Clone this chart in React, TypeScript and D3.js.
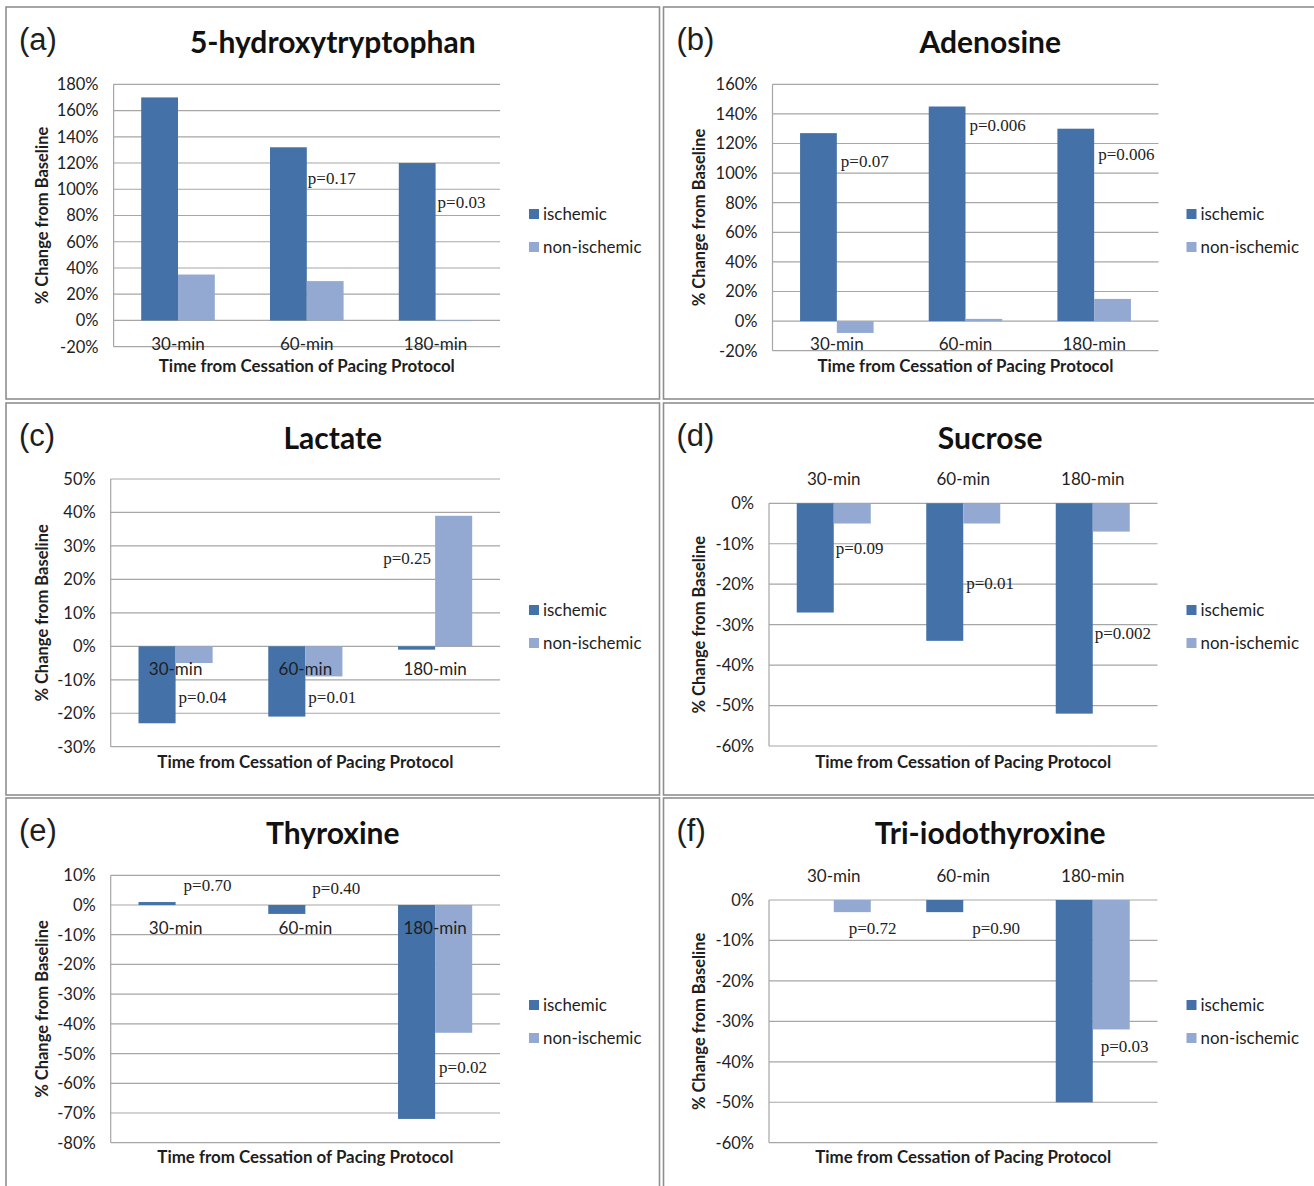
import React from 'react';
import * as d3 from 'd3';

// ---------- DATA ----------
const categories = ['30-min', '60-min', '180-min'];
const seriesNames = ['ischemic', 'non-ischemic'];
const panelLetters = ['(a)', '(b)', '(c)', '(d)', '(e)', '(f)'];
const panelTitles = ['5-hydroxytryptophan', 'Adenosine', 'Lactate', 'Sucrose', 'Thyroxine', 'Tri-iodothyroxine'];

// % change from baseline
const ischemicA = [170, 132, 120];
const nonIschemicA = [35, 30, -0.5];
const ischemicB = [127, 145, 130];
const nonIschemicB = [-8, 1.5, 15];
const ischemicC = [-23, -21, -1];
const nonIschemicC = [-5, -9, 39];
const ischemicD = [-27, -34, -52];
const nonIschemicD = [-5, -5, -7];
const ischemicE = [1, -3, -72];
const nonIschemicE = [0, 0, -43];
const ischemicF = [0, -3, -50];
const nonIschemicF = [-3, 0, -32];

// y-axis domains and tick steps
const yDomains: [number, number][] = [[-20, 180], [-20, 160], [-30, 50], [-60, 0], [-80, 10], [-60, 0]];
const yTickSteps = [20, 20, 10, 10, 10, 10];

// p-value annotations per category and their vertical anchor (in % units)
const pLabelsA = ['', 'p=0.17', 'p=0.03'];
const pValueYA = [0, 108.8, 90];
const pLabelsB = ['p=0.07', 'p=0.006', 'p=0.006'];
const pValueYB = [108.4, 132.5, 112.9];
const pLabelsC = ['p=0.04', 'p=0.01', 'p=0.25'];
const pValueYC = [-15.1, -15.1, 26.3];
const pLabelsD = ['p=0.09', 'p=0.01', 'p=0.002'];
const pValueYD = [-11, -19.7, -32.1];
const pLabelsE = ['p=0.70', 'p=0.40', 'p=0.02'];
const pValueYE = [6.6, 5.8, -54.4];
const pLabelsF = ['p=0.72', 'p=0.90', 'p=0.03'];
const pValueYF = [-7, -7, -36];

const ischemicAll = [ischemicA, ischemicB, ischemicC, ischemicD, ischemicE, ischemicF];
const nonIschemicAll = [nonIschemicA, nonIschemicB, nonIschemicC, nonIschemicD, nonIschemicE, nonIschemicF];
const pLabelsAll = [pLabelsA, pLabelsB, pLabelsC, pLabelsD, pLabelsE, pLabelsF];
const pValueYAll = [pValueYA, pValueYB, pValueYC, pValueYD, pValueYE, pValueYF];

// ---------- LAYOUT ----------
const W = 1314;
const H = 1186;
const colX = [6, 663.5];
const rowY = [7, 403, 798];
const PW = 653.5;
const PH = 392;
const plotRects = [
  { l: 107.6, r: 494, t: 77.3, b: 339.7 },
  { l: 109, r: 495, t: 77.3, b: 343.7 },
  { l: 104.7, r: 494, t: 76, b: 343.7 },
  { l: 105.5, r: 494, t: 100.3, b: 343 },
  { l: 104.7, r: 494, t: 77.3, b: 344.7 },
  { l: 105.5, r: 494, t: 102, b: 344.7 },
];
// horizontal offset of p labels from the category centre (px), anchor
const pLabelDx = [
  [2, 1, 2],
  [4, 4, 4],
  [3, 3, -4],
  [2, 3, 2],
  [8, 7, 4],
  [15, 9, 8],
];
const pLabelAnchor = [
  ['start', 'start', 'start'],
  ['start', 'start', 'start'],
  ['start', 'start', 'end'],
  ['start', 'start', 'start'],
  ['start', 'start', 'start'],
  ['start', 'start', 'start'],
];

const colors = ['#4471a7', '#93a9d2'];
const gridColor = '#a6a6a6';
const textColor = '#1e1e1e';
const sans = 'Lato, "Open Sans", sans-serif';
const serif = '"Liberation Serif", "DejaVu Serif", serif';

function Panel({ idx }: { idx: number }) {
  const col = idx % 2;
  const row = Math.floor(idx / 2);
  const ox = colX[col];
  const oy = rowY[row];
  const pr = plotRects[idx];
  const dom = yDomains[idx];
  const step = yTickSteps[idx];
  const y = d3.scaleLinear().domain(dom).range([pr.b, pr.t]);
  const ticks = d3.range(dom[0], dom[1] + step / 2, step);
  const x = d3.scaleBand().domain(categories).range([pr.l, pr.r]).padding(0);
  const xs = d3
    .scaleBand()
    .domain(seriesNames)
    .range([0, x.bandwidth()])
    .paddingInner(0)
    .paddingOuter(0.75);
  const seriesVals = [ischemicAll[idx], nonIschemicAll[idx]];
  const labelsOnTop = dom[1] === 0;
  const plotMidY = (pr.t + pr.b) / 2;
  const plotMidX = (pr.l + pr.r) / 2;

  return (
    <g transform={`translate(${ox},${oy})`}>
      <rect x={0} y={0} width={PW} height={PH} fill="#fff" stroke="#8f8f8f" strokeWidth={1.6} />
      <text x={13} y={43} fontFamily='"Liberation Sans", Arial, sans-serif' fontSize={31} fill={textColor}>
        {panelLetters[idx]}
      </text>
      <text x={PW / 2} y={45.5} textAnchor="middle" fontFamily={sans} fontWeight={700} fontSize={30} fill="#111">
        {panelTitles[idx]}
      </text>
      {/* gridlines */}
      {ticks.map((t) => (
        <line key={t} x1={pr.l} x2={pr.r} y1={y(t)} y2={y(t)} stroke={gridColor} strokeWidth={1.2} />
      ))}
      <line x1={pr.l} x2={pr.l} y1={pr.t} y2={pr.b} stroke={gridColor} strokeWidth={1.2} />
      {/* tick labels */}
      {ticks.map((t) => (
        <text
          key={'l' + t}
          x={pr.l - 15}
          y={y(t)}
          dy="0.36em"
          textAnchor="end"
          fontFamily={sans}
          fontSize={16.5}
          fill={textColor}
        >
          {`${t}%`}
        </text>
      ))}
      {/* bars */}
      {seriesNames.map((s, si) =>
        categories.map((c, ci) => {
          const v = seriesVals[si][ci];
          if (v === 0) return null;
          const x0 = (x(c) as number) + (xs(s) as number);
          const y0 = y(Math.max(0, v));
          const h = Math.abs(y(v) - y(0));
          return <rect key={s + c} x={x0} y={y0} width={xs.bandwidth()} height={h} fill={colors[si]} />;
        })
      )}
      {/* category labels */}
      {categories.map((c) => (
        <text
          key={'c' + c}
          x={(x(c) as number) + x.bandwidth() / 2}
          y={labelsOnTop ? pr.t - 24 : y(0) + 23}
          dy="0.36em"
          textAnchor="middle"
          fontFamily={sans}
          fontSize={17}
          fill={textColor}
        >
          {c}
        </text>
      ))}
      {/* p-value labels */}
      {categories.map((c, ci) => {
        const lab = pLabelsAll[idx][ci];
        if (!lab) return null;
        return (
          <text
            key={'p' + c}
            x={(x(c) as number) + x.bandwidth() / 2 + pLabelDx[idx][ci]}
            y={y(pValueYAll[idx][ci])}
            dy="0.35em"
            textAnchor={pLabelAnchor[idx][ci] as any}
            fontFamily={serif}
            fontSize={17}
            fill={textColor}
          >
            {lab}
          </text>
        );
      })}
      {/* axis titles */}
      <text
        transform={`translate(36,${plotMidY}) rotate(-90)`}
        textAnchor="middle"
        dy="0.36em"
        fontFamily={sans}
        fontWeight={700}
        fontSize={16.5}
        fill={textColor}
      >
        % Change from Baseline
      </text>
      <text
        x={plotMidX}
        y={359}
        dy="0.36em"
        textAnchor="middle"
        fontFamily={sans}
        fontWeight={700}
        fontSize={16.9}
        fill={textColor}
      >
        Time from Cessation of Pacing Protocol
      </text>
      {/* legend */}
      {seriesNames.map((s, si) => (
        <g key={'lg' + s} transform={`translate(523,${207 + si * 33})`}>
          <rect x={0} y={-5} width={10} height={10} fill={colors[si]} />
          <text x={14} y={0} dy="0.36em" fontFamily={sans} fontSize={16.9} fill={textColor}>
            {s}
          </text>
        </g>
      ))}
    </g>
  );
}

export default function App() {
  return (
    <svg
      width={W}
      height={H}
      viewBox={`0 0 ${W} ${H}`}
      style={{ position: 'absolute', left: 0, top: 0, display: 'block', background: '#fff' }}
    >
      <rect x={0} y={0} width={W} height={H} fill="#fff" />
      {panelTitles.map((_, i) => (
        <Panel key={i} idx={i} />
      ))}
    </svg>
  );
}
